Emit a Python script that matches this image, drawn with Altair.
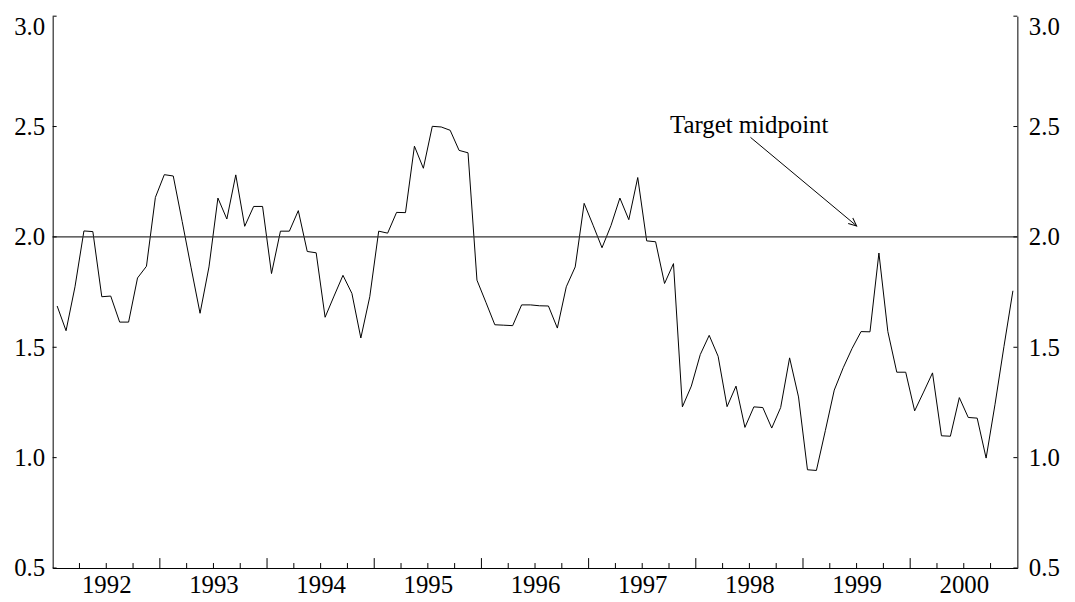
import altair as alt
import pandas as pd
import math

# ---- data (monthly, Jan 1992 - Dec 2000) ----
start_year = 1992
values = [
    1.687, 1.575, 1.774, 2.027, 2.024, 1.729, 1.732, 1.614, 1.614, 1.814, 1.867, 2.179,
    2.282, 2.276, 2.070, 1.860, 1.654, 1.864, 2.176, 2.081, 2.281, 2.048, 2.138, 2.138,
    1.834, 2.026, 2.026, 2.119, 1.934, 1.928, 1.636, 1.732, 1.826, 1.744, 1.542, 1.729,
    2.026, 2.017, 2.111, 2.110, 2.411, 2.311, 2.501, 2.498, 2.483, 2.392, 2.381, 1.804,
    1.704, 1.602, 1.600, 1.598, 1.692, 1.692, 1.688, 1.687, 1.587, 1.774, 1.864, 2.152,
    2.053, 1.951, 2.051, 2.176, 2.078, 2.269, 1.982, 1.978, 1.789, 1.879, 1.230, 1.324,
    1.467, 1.554, 1.459, 1.231, 1.324, 1.137, 1.230, 1.227, 1.134, 1.227, 1.452, 1.275,
    0.945, 0.942, 1.122, 1.306, 1.407, 1.495, 1.571, 1.570, 1.927, 1.571, 1.387, 1.387,
    1.212, 1.297, 1.384, 1.099, 1.097, 1.272, 1.182, 1.179, 0.998, 1.242, 1.504, 1.756,
]
years = list(range(1992, 2001))
year_labels_at = [y + 0.5 for y in years]
major_ticks = list(range(1993, 2001))
minor_ticks = [y + q for y in years for q in (0.25, 0.5, 0.75)]
y_ticks = [0.5, 1.0, 1.5, 2.0, 2.5, 3.0]
target = 2.0
annot_text = "Target midpoint"
annot_pos = (1997.76, 2.469)
arrow_from = (1998.51, 2.451)
arrow_to = (1999.50, 2.05)

W, H = 972, 556
FONT = "Liberation Serif"
FS = 25

df = pd.DataFrame({
    "t": [start_year + (i + 0.5) / 12 for i in range(len(values))],
    "v": values,
})

xscale = alt.Scale(domain=[1992, 2001], nice=False, zero=False)
yscale = alt.Scale(domain=[0.5, 3.0], nice=False, zero=False)

top_offset = {"condition": {"test": "datum.value >= 2.99", "value": 10}, "value": 0}

x_axis = alt.Axis(values=year_labels_at, labelExpr="'' + floor(datum.value)",
                  ticks=False, grid=False, title=None, domainColor="black",
                  labelPadding=5, labelFlush=False, labelOverlap=False)
y_axis = alt.Axis(values=y_ticks, format=".1f", ticks=False, grid=False, title=None,
                  domainColor="black", labelPadding=8, labelFlush=False,
                  labelOverlap=False, labelOffset=top_offset)
y_axis_r = alt.Axis(values=y_ticks, format=".1f", ticks=False, grid=False, title=None,
                    domainColor="black", labelPadding=11, labelFlush=False,
                    labelOverlap=False, orient="right", labelOffset=top_offset)

X = lambda f: alt.X(f, scale=xscale, axis=x_axis)
Y = lambda f: alt.Y(f, scale=yscale, axis=y_axis)

line = alt.Chart(df).mark_line(color="black", strokeWidth=1).encode(
    x=X("t:Q"), y=Y("v:Q"))

target_rule = alt.Chart(pd.DataFrame({"v": [target]})).mark_rule(
    color="#333333", strokeWidth=1.2).encode(
    y=Y("v:Q"), x=alt.value(0), x2=alt.value(W))

left_ticks = alt.Chart(pd.DataFrame({"v": y_ticks})).mark_rule(
    color="black", strokeWidth=1).encode(
    y=Y("v:Q"), x=alt.value(0), x2=alt.value(4))

maj = alt.Chart(pd.DataFrame({"t": major_ticks})).mark_rule(
    color="black", strokeWidth=1).encode(
    x=X("t:Q"), y=alt.value(H), y2=alt.value(H - 10))

mino = alt.Chart(pd.DataFrame({"t": minor_ticks})).mark_rule(
    color="black", strokeWidth=1).encode(
    x=X("t:Q"), y=alt.value(H), y2=alt.value(H - 5))

text = alt.Chart(pd.DataFrame({"t": [annot_pos[0]], "v": [annot_pos[1]], "s": [annot_text]})).mark_text(
    font=FONT, fontSize=FS, align="left", baseline="alphabetic", color="black").encode(
    x=X("t:Q"), y=Y("v:Q"), text="s:N")

arrow = alt.Chart(pd.DataFrame({"t": [arrow_from[0]], "v": [arrow_from[1]],
                                "t2": [arrow_to[0]], "v2": [arrow_to[1]]})).mark_rule(
    color="black", strokeWidth=1).encode(
    x=X("t:Q"), y=Y("v:Q"), x2="t2:Q", y2="v2:Q")

# arrowhead angle from pixel geometry
dx = (arrow_to[0] - arrow_from[0]) / 9 * W
dy = (arrow_from[1] - arrow_to[1]) / 2.5 * H
ang = math.degrees(math.atan2(dy, dx))

head = alt.Chart(pd.DataFrame({"t": [arrow_to[0]], "v": [arrow_to[1]]})).mark_point(
    shape="M -1 -0.45 L 0 0 L -1 0.45", filled=False, color="black", strokeWidth=1,
    size=256, angle=ang, opacity=1).encode(
    x=X("t:Q"), y=Y("v:Q"))

left = alt.layer(line, target_rule, left_ticks, maj, mino, text, arrow, head)

right = alt.Chart(pd.DataFrame({"v": y_ticks})).mark_rule(
    color="black", strokeWidth=1).encode(
    y=alt.Y("v:Q", scale=yscale, axis=y_axis_r), x=alt.value(W - 4), x2=alt.value(W))

chart = alt.layer(left, right).resolve_scale(y="independent").properties(
    width=W, height=H,
    autosize=alt.AutoSizeParams(type="none"),
    padding={"left": 45, "top": 6, "right": 50, "bottom": 30},
).configure_view(stroke=None).configure_axis(
    labelFont=FONT, labelFontSize=FS, labelColor="black", domainWidth=1
)

chart.save("out.html", embed_options={"renderer": "svg", "actions": False})
